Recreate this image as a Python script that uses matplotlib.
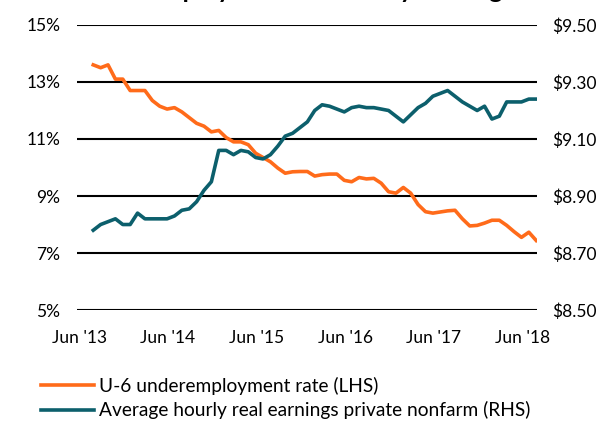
import numpy as np
import matplotlib
matplotlib.use("Agg")
import matplotlib.pyplot as plt

plt.rcParams['font.family'] = ['Lato', 'DejaVu Sans']

# monthly, Jun 2013 .. Jun 2018
u6_rate = [13.6, 13.5, 13.6, 13.1, 13.1, 12.7, 12.7, 12.7, 12.35, 12.15,
           12.05, 12.1, 11.95, 11.75, 11.55, 11.45, 11.25, 11.3, 11.05, 10.9,
           10.9, 10.8, 10.5, 10.35, 10.2, 9.98, 9.8, 9.85, 9.86, 9.86,
           9.7, 9.75, 9.77, 9.77, 9.55, 9.5, 9.65, 9.6, 9.62, 9.45,
           9.15, 9.1, 9.3, 9.1, 8.7, 8.45, 8.4, 8.44, 8.48, 8.5,
           8.2, 7.95, 7.97, 8.05, 8.15, 8.15, 7.97, 7.75, 7.55, 7.73,
           7.44]
real_earnings = [8.78, 8.80, 8.81, 8.82, 8.80, 8.80, 8.84, 8.82, 8.82, 8.82,
                 8.82, 8.83, 8.85, 8.855, 8.88, 8.92, 8.95, 9.06, 9.06, 9.045,
                 9.06, 9.055, 9.035, 9.03, 9.045, 9.075, 9.11, 9.12, 9.14, 9.16,
                 9.20, 9.22, 9.215, 9.205, 9.195, 9.21, 9.215, 9.21, 9.21, 9.205,
                 9.20, 9.18, 9.16, 9.185, 9.21, 9.225, 9.25, 9.26, 9.27, 9.25,
                 9.23, 9.215, 9.20, 9.215, 9.17, 9.18, 9.23, 9.23, 9.23, 9.24,
                 9.24]
tick_labels = ["Jun '13", "Jun '14", "Jun '15", "Jun '16", "Jun '17", "Jun '18"]
left_ticks = [5, 7, 9, 11, 13, 15]
right_ticks = [8.50, 8.70, 8.90, 9.10, 9.30, 9.50]

orange = '#ff6b1a'
teal = '#0c5f6c'

months = np.arange(len(u6_rate))

fig = plt.figure(figsize=(6.04, 4.23), dpi=100)
ax = fig.add_axes([0.1275, 0.267, 0.7615, 0.674])
ax2 = ax.twinx()

l1, = ax.plot(months, u6_rate, color=orange, lw=2.6, solid_joinstyle='round',
              label='U-6 underemployment rate (LHS)', zorder=3)
l2, = ax2.plot(months, real_earnings, color=teal, lw=2.6, solid_joinstyle='round',
               label='Average hourly real earnings private nonfarm (RHS)', zorder=3)

ax.set_xlim(-2.2, 60.1)
ax.set_ylim(5, 15)
ax2.set_ylim(8.5, 9.5)
ax.set_yticks(left_ticks)
ax.set_yticklabels([f"{t}%" for t in left_ticks])
ax2.set_yticks(right_ticks)
ax2.set_yticklabels([f"${t:.2f}" for t in right_ticks])

# labels sit a little left of the June points, as in the source chart
ax.set_xticks(np.arange(0, 61, 12) - 1.9)
ax.set_xticklabels(tick_labels)

for y in left_ticks:
    ax.axhline(y, color='black', lw=1.5, zorder=1)

for a in (ax, ax2):
    for s in a.spines.values():
        s.set_visible(False)
    a.tick_params(length=0, labelsize=12.5, colors='black')
ax.tick_params(axis='y', pad=12)
ax2.tick_params(axis='y', pad=11)
ax.tick_params(axis='x', pad=14)
ax2.set_zorder(ax.get_zorder() + 1)
ax2.patch.set_visible(False)

# title is mostly cropped off the top of the source image
fig.text(0.49, 1 + 2 / 423, 'Underemployment and hourly earnings', ha='center',
         va='baseline', fontsize=18, fontweight='bold')

fig.legend(handles=[l1, l2], loc='upper left', bbox_to_anchor=(0.055, 0.128),
           frameon=False, fontsize=13.8, handlelength=2.75, handletextpad=0.3,
           labelspacing=0.35, borderaxespad=0)

fig.savefig('out.png', dpi=100, facecolor='white')
